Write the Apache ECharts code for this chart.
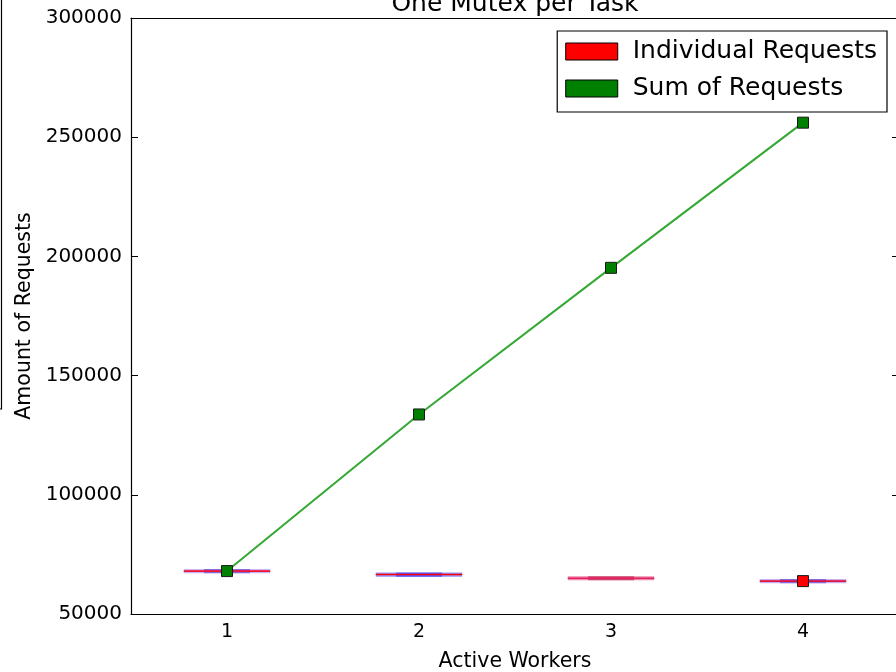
<!DOCTYPE html>
<html>
<head>
<meta charset="utf-8">
<script src="https://cdn.jsdelivr.net/npm/echarts@6/dist/echarts.min.js"></script>
<style>
    html, body { margin: 0; padding: 0; background: #fff; }
    #chart { width: 896px; height: 672px; }
</style>
</head>
<body>
<div id="chart"></div>
<script type="text/javascript">
    // values
    const workers = ['1', '2', '3', '4'];
    const sumRequests = [68000, 133700, 195200, 256100];
    const individualMedian = [68000, 66600, 65000, 63800];
    const individualLow = [67700, 66300, 64800, 63500];
    const individualHigh = [68200, 66800, 65200, 64000];
    const individualMarker = [null, null, null, 63800];
    const yTicks = [50000, 100000, 150000, 200000, 250000, 300000];

    const font = 'DejaVu Sans';
    const chart = echarts.init(document.getElementById('chart'));

    // flat box plots: wide caps, darker box, red median
    function boxItem(params, api) {
        const x = api.value(0);
        const mid = api.coord([x, api.value(1)]);
        const low = api.coord([x, api.value(2)]);
        const high = api.coord([x, api.value(3)]);
        const band = api.size([1, 0])[0];
        const capW = band * 0.45;
        const boxW = band * 0.24;
        const palette = [
            ['rgba(140,90,230,0.45)', 'rgba(90,60,200,0.6)', '#f01030'],
            ['rgba(60,60,255,0.55)', 'rgba(60,60,255,0.7)', '#ff0000'],
            ['rgba(220,60,120,0.6)', 'rgba(190,40,90,0.7)', '#e8205a'],
            ['rgba(140,80,220,0.45)', 'rgba(90,60,200,0.6)', '#e01040']
        ][params.dataIndex];
        return {
            type: 'group',
            children: [
                {
                    type: 'rect',
                    shape: { x: mid[0] - capW / 2, y: high[1] - 1.5, width: capW, height: Math.max(low[1] - high[1], 0) + 3 },
                    style: { fill: palette[0] }
                },
                {
                    type: 'rect',
                    shape: { x: mid[0] - boxW / 2, y: high[1] - 1.5, width: boxW, height: Math.max(low[1] - high[1], 0) + 3 },
                    style: { fill: palette[1] }
                },
                {
                    type: 'line',
                    shape: { x1: mid[0] - capW / 2, y1: mid[1], x2: mid[0] + capW / 2, y2: mid[1] },
                    style: { stroke: palette[2], lineWidth: 1.6 }
                }
            ]
        };
    }

    chart.setOption({
        animation: false,
        backgroundColor: '#fff',
        title: {
            text: 'One Mutex per Task',
            left: 510,
            textAlign: 'center',
            top: -13,
            textStyle: { fontFamily: font, fontSize: 25, fontWeight: 'normal', color: '#000' }
        },
        legend: {
            right: 9,
            top: 31,
            orient: 'vertical',
            backgroundColor: '#fff',
            borderColor: '#000',
            borderWidth: 1.2,
            borderRadius: 0,
            padding: [8, 10, 11, 8],
            itemGap: 12,
            itemWidth: 52,
            itemHeight: 17,
            textStyle: { fontFamily: font, fontSize: 25, color: '#000', padding: [0, 0, 0, 10] },
            data: [
                { name: 'Individual Requests', icon: 'rect', itemStyle: { color: '#ff0000', borderColor: '#000', borderWidth: 1 } },
                { name: 'Sum of Requests', icon: 'rect', itemStyle: { color: '#008000', borderColor: '#000', borderWidth: 1 } }
            ]
        },
        grid: { left: 131, right: -3, top: 18, bottom: 58, containLabel: false, outerBoundsMode: 'none' },
        xAxis: [
            {
                type: 'category',
                data: workers,
                boundaryGap: true,
                name: 'Active Workers',
                nameLocation: 'middle',
                nameGap: 37,
                nameTextStyle: { fontFamily: font, fontSize: 20.5, color: '#000' },
                axisLine: { lineStyle: { color: '#000', width: 1.2 } },
                axisTick: { alignWithLabel: true, inside: true, length: 7, lineStyle: { color: '#000' } },
                axisLabel: { fontFamily: font, fontSize: 19, color: '#000', margin: 9 },
                splitLine: { show: false }
            },
            {
                type: 'category',
                data: workers,
                position: 'top',
                boundaryGap: true,
                axisLine: { lineStyle: { color: '#000', width: 1.2 } },
                axisTick: { alignWithLabel: true, inside: true, length: 7, lineStyle: { color: '#000' } },
                axisLabel: { show: false },
                splitLine: { show: false }
            }
        ],
        yAxis: [
            {
                type: 'value',
                min: 50000,
                max: 300000,
                interval: 50000,
                name: 'Amount of Requests',
                nameLocation: 'middle',
                nameGap: 94,
                nameTextStyle: { fontFamily: font, fontSize: 20.5, color: '#000' },
                axisLine: { show: true, lineStyle: { color: '#000', width: 1.2 } },
                axisTick: { show: true, inside: true, length: 7, lineStyle: { color: '#000' } },
                axisLabel: {
                    fontFamily: font, fontSize: 20, color: '#000', margin: 9,
                    formatter: v => yTicks.includes(v) ? String(v) : ''
                },
                splitLine: { show: false }
            },
            {
                type: 'value',
                min: 50000,
                max: 300000,
                interval: 50000,
                position: 'right',
                axisLine: { show: true, lineStyle: { color: '#000', width: 1.2 } },
                axisTick: { show: true, inside: true, length: 7, lineStyle: { color: '#000' } },
                axisLabel: { show: false },
                splitLine: { show: false }
            }
        ],
        graphic: [
            {
                type: 'polyline',
                shape: { points: [[1.5, -2], [1.5, 409], [-4, 409]] },
                style: { stroke: '#000', fill: null, lineWidth: 1.2 }
            }
        ],
        series: [
            {
                name: 'Individual Requests',
                type: 'custom',
                renderItem: boxItem,
                encode: { x: 0, y: [1, 2, 3] },
                data: workers.map((w, i) => [i, individualMedian[i], individualLow[i], individualHigh[i]]),
                itemStyle: { color: '#ff0000' },
                z: 2
            },
            {
                name: 'Sum of Requests',
                type: 'line',
                data: sumRequests,
                symbol: 'rect',
                symbolSize: 11,
                lineStyle: { color: '#33a833', width: 2 },
                itemStyle: { color: '#008000', borderColor: '#1a1a1a', borderWidth: 1 },
                z: 3
            },
            {
                name: 'Individual Requests',
                type: 'line',
                data: individualMarker,
                symbol: 'rect',
                symbolSize: 11,
                showAllSymbol: true,
                lineStyle: { width: 0 },
                itemStyle: { color: '#ff0000', borderColor: '#1a1a1a', borderWidth: 1 },
                z: 4
            }
        ]
    });
</script>
</body>
</html>
